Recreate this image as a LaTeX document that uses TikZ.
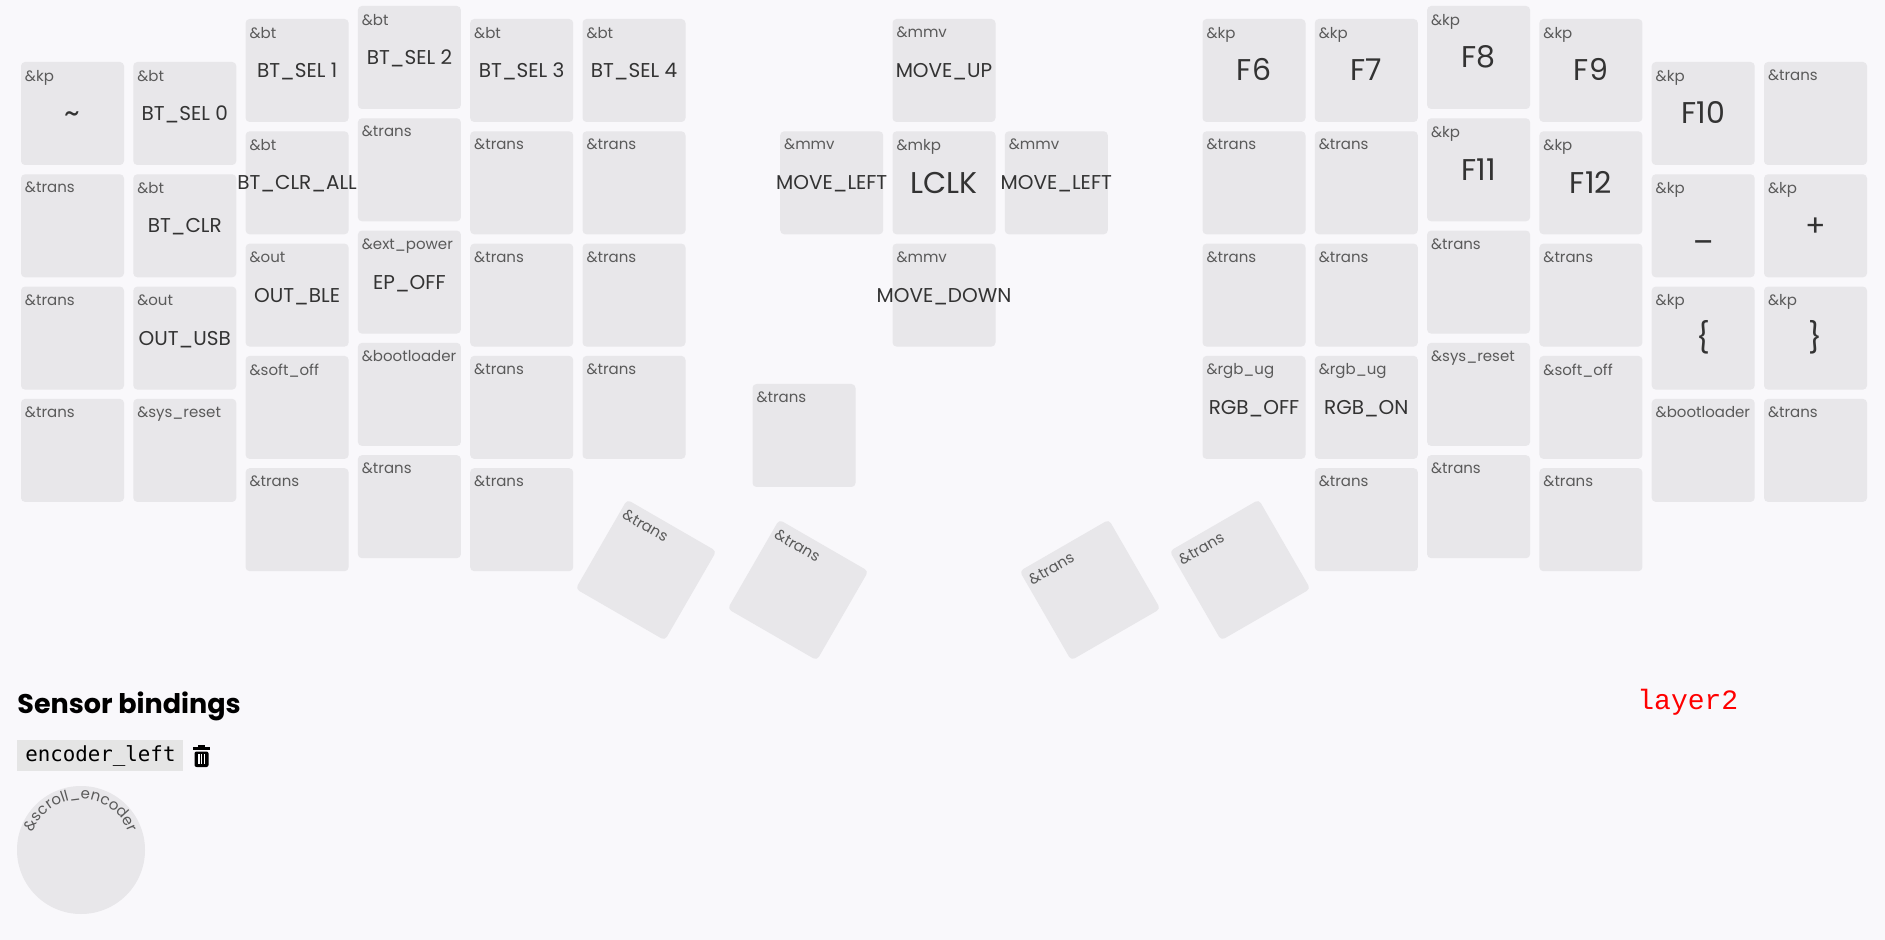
\documentclass[tikz,border=0pt]{standalone}
\usepackage{fontspec}
\setmainfont{Poppins}
\newfontfamily\codefont{DejaVu Sans Mono}
\newfontfamily\layerfont{Liberation Mono}
\usetikzlibrary{decorations.text}

\definecolor{pagebg}{RGB}{249,248,251}
\definecolor{keyfill}{RGB}{232,231,234}
\definecolor{keytext}{RGB}{51,51,51}
\definecolor{lblgrey}{RGB}{90,90,90}
\definecolor{codebg}{RGB}{229,229,229}
\newcommand{\wide}[1]{\makebox[0pt]{#1}}

\tikzset{
  keycap/.style={rectangle, rounded corners=2pt, fill=keyfill, minimum size=51.5pt, inner sep=0pt, text=keytext, text height=7pt, text depth=0pt, font=\fontsize{10}{12}\selectfont},
  bigcap/.style={text height=10.5pt, font=\fontsize{15}{17}\selectfont},
  capnote/.style={anchor=north west, inner xsep=2pt, inner ysep=4pt, text=lblgrey, font=\fontsize{7.5}{9}\selectfont},
}

\begin{document}
\begin{tikzpicture}[x=0.5pt, y=0.5pt]
\fill[pagebg] (0,0) rectangle (1885,-940);

% left half
\node[keycap, bigcap, label={[capnote]north west:\&kp}] (tilde) at (72.5,-113.5) {\textasciitilde};
\node[keycap, label={[capnote]north west:\&trans}] (l0b) at (72.5,-225.8) {};
\node[keycap, label={[capnote]north west:\&trans}] (l0c) at (72.5,-338.1) {};
\node[keycap, label={[capnote]north west:\&trans}] (l0d) at (72.5,-450.4) {};

\node[keycap, label={[capnote]north west:\&bt}] (btsel0) at (184.8,-113.5) {BT\_SEL 0};
\node[keycap, label={[capnote]north west:\&bt}] (btclr) at (184.8,-225.8) {BT\_CLR};
\node[keycap, label={[capnote]north west:\&out}] (outusb) at (184.8,-338.1) {OUT\_USB};
\node[keycap, label={[capnote]north west:\&sys\_reset}] (sysresetl) at (184.8,-450.4) {};

\node[keycap, label={[capnote]north west:\&bt}] (btsel1) at (297.1,-70.5) {BT\_SEL 1};
\node[keycap, label={[capnote]north west:\&bt}] (btclrall) at (297.1,-182.8) {\wide{BT\_CLR\_ALL}};
\node[keycap, label={[capnote]north west:\&out}] (outble) at (297.1,-295.1) {OUT\_BLE};
\node[keycap, label={[capnote]north west:\&soft\_off}] (softoffl) at (297.1,-407.4) {};
\node[keycap, label={[capnote]north west:\&trans}] (l2e) at (297.1,-519.7) {};

\node[keycap, label={[capnote]north west:\&bt}] (btsel2) at (409.4,-57.5) {BT\_SEL 2};
\node[keycap, label={[capnote]north west:\&trans}] (l3b) at (409.4,-169.8) {};
\node[keycap, label={[capnote]north west:\&ext\_power}] (epoff) at (409.4,-282.1) {EP\_OFF};
\node[keycap, label={[capnote]north west:\&bootloader}] (bootl) at (409.4,-394.4) {};
\node[keycap, label={[capnote]north west:\&trans}] (l3e) at (409.4,-506.7) {};

\node[keycap, label={[capnote]north west:\&bt}] (btsel3) at (521.7,-70.5) {BT\_SEL 3};
\node[keycap, label={[capnote]north west:\&trans}] (l4b) at (521.7,-182.8) {};
\node[keycap, label={[capnote]north west:\&trans}] (l4c) at (521.7,-295.1) {};
\node[keycap, label={[capnote]north west:\&trans}] (l4d) at (521.7,-407.4) {};
\node[keycap, label={[capnote]north west:\&trans}] (l4e) at (521.7,-519.7) {};

\node[keycap, label={[capnote]north west:\&bt}] (btsel4) at (634,-70.5) {BT\_SEL 4};
\node[keycap, label={[capnote]north west:\&trans}] (l5b) at (634,-182.8) {};
\node[keycap, label={[capnote]north west:\&trans}] (l5c) at (634,-295.1) {};
\node[keycap, label={[capnote]north west:\&trans}] (l5d) at (634,-407.4) {};

% thumbs
\node[keycap, label={[capnote]north west:\&trans}] (lthumb) at (804,-435.5) {};
\node[keycap, rotate=-30, label={[capnote, rotate=-30]north west:\&trans}] (lrot1) at (646,-570) {};
\node[keycap, rotate=-30, label={[capnote, rotate=-30]north west:\&trans}] (lrot2) at (798,-590) {};
\node[keycap, rotate=30, label={[capnote, rotate=30]north west:\&trans}] (rrot1) at (1090,-590) {};
\node[keycap, rotate=30, label={[capnote, rotate=30]north west:\&trans}] (rrot2) at (1240,-570) {};

% mouse keys
\node[keycap, label={[capnote]north west:\&mmv}] (mvup) at (944,-70.5) {MOVE\_UP};
\node[keycap, label={[capnote]north west:\&mmv}] (mvleft) at (831.7,-182.8) {\wide{MOVE\_LEFT}};
\node[keycap, bigcap, label={[capnote]north west:\&mkp}] (lclk) at (944,-182.8) {LCLK};
\node[keycap, label={[capnote]north west:\&mmv}] (mvleftb) at (1056.3,-182.8) {\wide{MOVE\_LEFT}};
\node[keycap, label={[capnote]north west:\&mmv}] (mvdown) at (944,-295.1) {\wide{MOVE\_DOWN}};

% right half
\node[keycap, bigcap, label={[capnote]north west:\&kp}] (f6) at (1254,-70.5) {F6};
\node[keycap, label={[capnote]north west:\&trans}] (r0b) at (1254,-182.8) {};
\node[keycap, label={[capnote]north west:\&trans}] (r0c) at (1254,-295.1) {};
\node[keycap, label={[capnote]north west:\&rgb\_ug}] (rgboff) at (1254,-407.4) {RGB\_OFF};

\node[keycap, bigcap, label={[capnote]north west:\&kp}] (f7) at (1366.3,-70.5) {F7};
\node[keycap, label={[capnote]north west:\&trans}] (r1b) at (1366.3,-182.8) {};
\node[keycap, label={[capnote]north west:\&trans}] (r1c) at (1366.3,-295.1) {};
\node[keycap, label={[capnote]north west:\&rgb\_ug}] (rgbon) at (1366.3,-407.4) {RGB\_ON};
\node[keycap, label={[capnote]north west:\&trans}] (r1e) at (1366.3,-519.7) {};

\node[keycap, bigcap, label={[capnote]north west:\&kp}] (f8) at (1478.6,-57.5) {F8};
\node[keycap, bigcap, label={[capnote]north west:\&kp}] (f11) at (1478.6,-169.8) {F11};
\node[keycap, label={[capnote]north west:\&trans}] (r2c) at (1478.6,-282.1) {};
\node[keycap, label={[capnote]north west:\&sys\_reset}] (sysresetr) at (1478.6,-394.4) {};
\node[keycap, label={[capnote]north west:\&trans}] (r2e) at (1478.6,-506.7) {};

\node[keycap, bigcap, label={[capnote]north west:\&kp}] (f9) at (1590.9,-70.5) {F9};
\node[keycap, bigcap, label={[capnote]north west:\&kp}] (f12) at (1590.9,-182.8) {F12};
\node[keycap, label={[capnote]north west:\&trans}] (r3c) at (1590.9,-295.1) {};
\node[keycap, label={[capnote]north west:\&soft\_off}] (softoffr) at (1590.9,-407.4) {};
\node[keycap, label={[capnote]north west:\&trans}] (r3e) at (1590.9,-519.7) {};

\node[keycap, bigcap, label={[capnote]north west:\&kp}] (f10) at (1703.2,-113.5) {F10};
\node[keycap, bigcap, label={[capnote]north west:\&kp}] (under) at (1703.2,-225.8) {\raisebox{-1.5pt}{\_}};
\node[keycap, bigcap, label={[capnote]north west:\&kp}] (lbrace) at (1703.2,-338.1) {\{};
\node[keycap, label={[capnote]north west:\&bootloader}] (bootr) at (1703.2,-450.4) {};

\node[keycap, label={[capnote]north west:\&trans}] (r5a) at (1815.5,-113.5) {};
\node[keycap, bigcap, label={[capnote]north west:\&kp}] (plus) at (1815.5,-225.8) {+};
\node[keycap, bigcap, label={[capnote]north west:\&kp}] (rbrace) at (1815.5,-338.1) {\}};
\node[keycap, label={[capnote]north west:\&trans}] (r5d) at (1815.5,-450.4) {};

% sensor bindings
\node[anchor=base west, inner sep=0pt, font=\fontsize{13.5}{16}\selectfont\bfseries] (sensorhead) at (17,-713) {Sensor bindings};
\node[anchor=north west, fill=codebg, minimum width=83pt, minimum height=15.5pt, inner sep=0pt, font=\codefont\fontsize{10.4}{12}\selectfont] (encleft) at (17,-740) {encoder\_left};
\fill (193,-747) rectangle (210,-750);
\fill (198,-745) rectangle (205,-747);
\fill[rounded corners=1pt] (194.5,-751.5) rectangle (208.5,-767);
\fill[white] (198,-754) rectangle (199.5,-764);
\fill[white] (200.8,-754) rectangle (202.2,-764);
\fill[white] (203.5,-754) rectangle (205,-764);

\node[circle, fill=keyfill, minimum size=64pt, inner sep=0pt] (scrollenc) at (81,-850) {};
\path[decorate, decoration={text along path, text align=center,
  text={|\fontsize{7.5}{9}\selectfont\color{lblgrey}|{\&}scroll{\_}encoder}}]
  ([shift={(160:51)}]scrollenc.center) arc[start angle=160, end angle=20, radius=51];

\node[anchor=base west, inner sep=0pt, text=red, font=\layerfont\fontsize{14}{16}\selectfont] (layername) at (1637,-710) {layer2};
\end{tikzpicture}
\end{document}
